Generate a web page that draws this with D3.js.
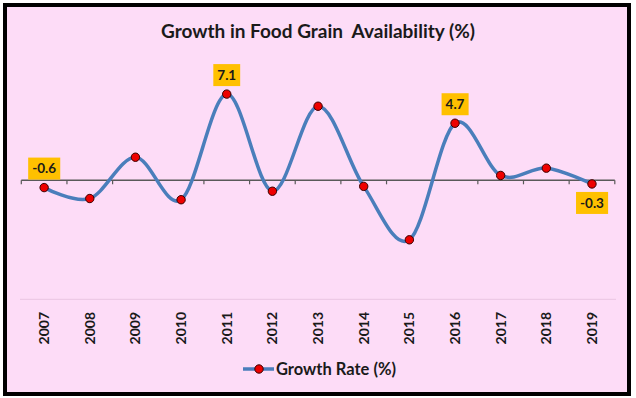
<!DOCTYPE html>
<html>
<head>
<meta charset="utf-8">
<script src="https://cdnjs.cloudflare.com/ajax/libs/d3/7.8.5/d3.min.js"></script>
<style>
  body { margin: 0; background: #fff; }
  svg { display: block; font-family: Lato, "Open Sans", sans-serif; }
</style>
</head>
<body>
<svg width="636" height="398"></svg>
<script>
// chart data
var years = ["2007", "2008", "2009", "2010", "2011", "2012", "2013", "2014", "2015", "2016", "2017", "2018", "2019"];
var growth = [-0.6, -1.5, 1.9, -1.6, 7.1, -0.9, 6.1, -0.5, -4.9, 4.7, 0.4, 1.0, -0.3];
var labelled = ["2007", "2011", "2016", "2019"];
var labelBelow = ["2019"];
var seriesName = "Growth Rate (%)";
var title = "Growth in Food Grain  Availability (%)";

var svg = d3.select("svg");

// frame
svg.append("rect")
    .attr("x", 5).attr("y", 5)
    .attr("width", 624).attr("height", 389)
    .attr("fill", "#fddcf7")
    .attr("stroke", "#000")
    .attr("stroke-width", 4);

svg.append("text")
    .attr("x", 318).attr("y", 38)
    .attr("text-anchor", "middle")
    .style("font-size", "19px")
    .style("font-weight", "bold")
    .style("fill", "#1a1a1a")
    .style("white-space", "pre")
    .text(title);

var x = d3.scaleBand().domain(years).range([21.3, 614.8]).padding(0),
    y = d3.scaleLinear().domain([-9.8, 9.8]).range([299.3, 61.3]);

// faint bottom line of plot area
svg.append("line")
    .attr("x1", 20).attr("x2", 616)
    .attr("y1", y(-9.8)).attr("y2", y(-9.8))
    .attr("stroke", "#e9c5e2")
    .attr("stroke-width", 1);

// zero axis with ticks between categories
var axis = svg.append("g")
    .attr("transform", "translate(0," + y(0) + ")");
axis.append("line")
    .attr("x1", x.range()[0]).attr("x2", x.range()[1])
    .attr("stroke", "#595959").attr("stroke-width", 1.5);
axis.selectAll(".tk")
    .data(years.concat(["end"]))
    .enter().append("line")
    .attr("class", "tk")
    .attr("x1", function(d, i) { return x.range()[0] + i * x.step(); })
    .attr("x2", function(d, i) { return x.range()[0] + i * x.step(); })
    .attr("y1", 0).attr("y2", 4)
    .attr("stroke", "#595959").attr("stroke-width", 1.2);

// category labels at bottom
svg.selectAll(".yr")
    .data(years)
    .enter().append("text")
    .attr("class", "yr")
    .attr("transform", function(d) { return "translate(" + (x(d) + x.bandwidth() / 2 + 5) + ",312) rotate(-90)"; })
    .attr("text-anchor", "end")
    .style("font-size", "14px")
    .style("font-weight", "bold")
    .style("fill", "#1a1a1a")
    .text(function(d) { return d; });

var cx = function(d, i) { return x(years[i]) + x.bandwidth() / 2; };

var line = d3.line()
    .x(cx)
    .y(function(d) { return y(d); })
    .curve(d3.curveCardinal.tension(0));

svg.append("path")
    .datum(growth)
    .attr("d", line)
    .attr("fill", "none")
    .attr("stroke", "#4a7ebb")
    .attr("stroke-width", 3.5)
    .attr("stroke-linecap", "round");

svg.selectAll(".pt")
    .data(growth)
    .enter().append("circle")
    .attr("class", "pt")
    .attr("cx", cx)
    .attr("cy", function(d) { return y(d); })
    .attr("r", 4.2)
    .attr("fill", "#ee0000")
    .attr("stroke", "#3a0000")
    .attr("stroke-width", 1);

// data labels
var lab = svg.selectAll(".lab")
    .data(years.filter(function(d) { return labelled.indexOf(d) >= 0; }))
    .enter().append("g")
    .attr("class", "lab")
    .attr("transform", function(d) {
      var i = years.indexOf(d);
      var below = labelBelow.indexOf(d) >= 0;
      return "translate(" + cx(null, i) + "," + (y(growth[i]) + (below ? 19 : -19)) + ")";
    });
lab.append("rect")
    .attr("fill", "#ffc000");
lab.append("text")
    .attr("text-anchor", "middle")
    .attr("dy", "0.35em")
    .style("font-size", "13.5px")
    .style("font-weight", "bold")
    .style("fill", "#1a1a1a")
    .text(function(d) { return growth[years.indexOf(d)].toFixed(1); });
lab.each(function() {
  var g = d3.select(this), bb = g.select("text").node().getBBox();
  g.select("rect")
    .attr("x", bb.x - 4).attr("y", -11)
    .attr("width", bb.width + 8).attr("height", 22);
});

// legend
var leg = svg.append("g").attr("transform", "translate(243,369)");
leg.append("line")
    .attr("x1", 0).attr("x2", 31)
    .attr("stroke", "#4a7ebb").attr("stroke-width", 3.5);
leg.append("circle")
    .attr("cx", 16).attr("r", 4.2)
    .attr("fill", "#ee0000").attr("stroke", "#3a0000").attr("stroke-width", 1);
leg.append("text")
    .attr("x", 33).attr("dy", "0.35em")
    .style("font-size", "16.5px")
    .style("font-weight", "bold")
    .style("fill", "#1a1a1a")
    .text(seriesName);
</script>
</body>
</html>
